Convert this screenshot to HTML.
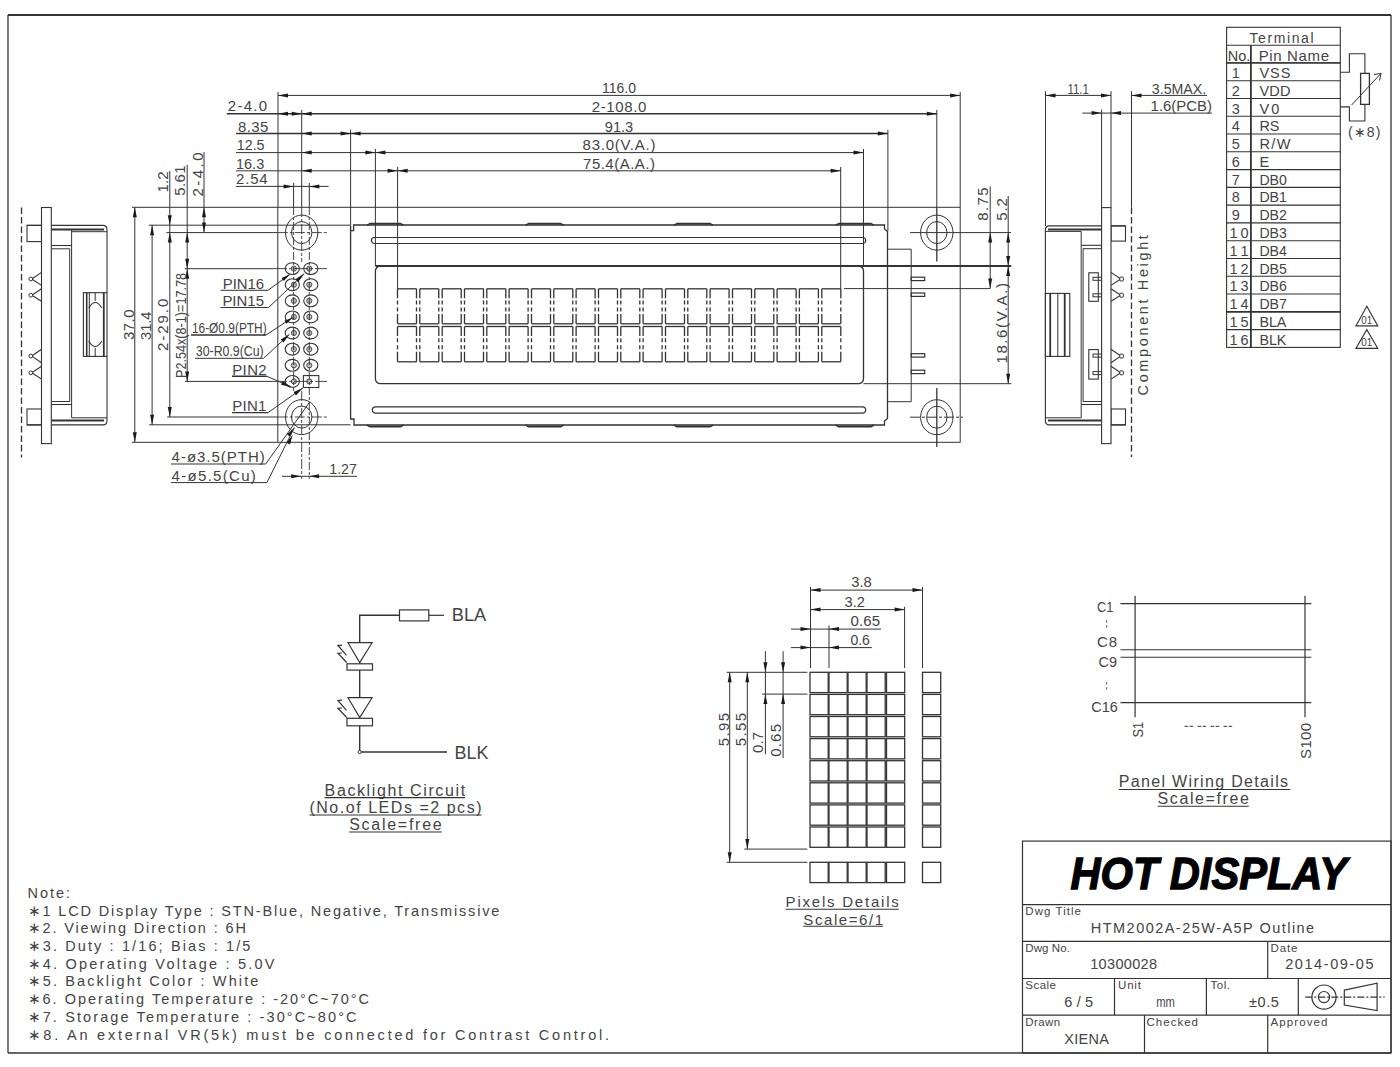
<!DOCTYPE html>
<html><head><meta charset="utf-8"><title>HTM2002A-25W-A5P Outline</title>
<style>
html,body{margin:0;padding:0;background:#fff;width:1400px;height:1067px;overflow:hidden}
svg{display:block}
text{font-family:"Liberation Sans", sans-serif}
</style></head><body>
<svg width="1400" height="1067" viewBox="0 0 1400 1067">
<rect x="0" y="0" width="1400" height="1067" fill="#fff"/>
<g stroke="#333" stroke-width="1" fill="none" stroke-linecap="butt">
<line x1="8" y1="15" x2="1391" y2="15" stroke-width="2.2"/>
<line x1="8" y1="15" x2="8" y2="1053" stroke-width="1.3"/>
<line x1="1391" y1="15" x2="1391" y2="1053" stroke-width="1.3"/>
<line x1="8" y1="1053" x2="1391" y2="1053" stroke-width="1.3"/>
<rect x="277.8" y="207.3" width="682.4" height="235" fill="none"/>
<ellipse cx="301.7" cy="232.6" rx="16.2" ry="17.5" fill="none"/>
<ellipse cx="301.7" cy="232.6" rx="10.2" ry="11" fill="none"/>
<ellipse cx="301.7" cy="417.1" rx="16.2" ry="17.5" fill="none"/>
<ellipse cx="301.7" cy="417.1" rx="10.2" ry="11" fill="none"/>
<ellipse cx="936.8" cy="232.6" rx="16.2" ry="17.5" fill="none"/>
<ellipse cx="936.8" cy="232.6" rx="10.2" ry="11" fill="none"/>
<ellipse cx="936.8" cy="417.2" rx="16.2" ry="17.5" fill="none"/>
<ellipse cx="936.8" cy="417.2" rx="10.2" ry="11" fill="none"/>
<polyline points="350.6,230.7 353.6,230.7 353.6,225 884.5,225 884.5,229 887.5,231.5 887.5,418.5 884.5,421 884.5,425 354,425 354,419 350.6,419 350.6,225.4" fill="none" stroke-width="1.3"/>
<path d="M367,225.4 L370,223.6 L400.5,223.6 L403.5,225.4" fill="none" stroke-width="1.6"/>
<path d="M367,425 L370,426.6 L400.5,426.6 L403.5,425" fill="none" stroke-width="1.6"/>
<path d="M525.6,225.4 L528.6,223.6 L560.7,223.6 L563.7,225.4" fill="none" stroke-width="1.6"/>
<path d="M525.6,425 L528.6,426.6 L560.7,426.6 L563.7,425" fill="none" stroke-width="1.6"/>
<path d="M674,225.4 L677,223.6 L710,223.6 L713,225.4" fill="none" stroke-width="1.6"/>
<path d="M674,425 L677,426.6 L710,426.6 L713,425" fill="none" stroke-width="1.6"/>
<path d="M835.7,225.4 L838.7,223.6 L871,223.6 L874,225.4" fill="none" stroke-width="1.6"/>
<path d="M835.7,425 L838.7,426.6 L871,426.6 L874,425" fill="none" stroke-width="1.6"/>
<path d="M374.5,237.5 L862.7,237.5 A3,3 0 0 1 862.7,243.5 L374.5,243.5 A3,3 0 0 1 374.5,237.5 Z" fill="none" stroke-width="1.2"/>
<path d="M375.5,406.8 L862.5,406.8 A3.2,3.2 0 0 1 862.5,413.2 L375.5,413.2 A3.2,3.2 0 0 1 375.5,406.8 Z" fill="none" stroke-width="1.2"/>
<rect x="375.4" y="266" width="488.1" height="117.7" fill="none" stroke-width="1.3" rx="5"/>
<line x1="375.4" y1="266" x2="863.5" y2="266" stroke-width="2"/>
<polyline points="887.5,249.2 911.2,249.2 911.2,401.7 887.5,401.7" fill="none"/>
<rect x="911.2" y="277.2" width="13.5" height="3.4" fill="none" stroke-width="1.2"/>
<rect x="911.2" y="293" width="13.5" height="3.4" fill="none" stroke-width="1.2"/>
<rect x="911.2" y="353.7" width="13.5" height="3.4" fill="none" stroke-width="1.2"/>
<rect x="911.2" y="370.2" width="13.5" height="3.4" fill="none" stroke-width="1.2"/>
<line x1="397.5" y1="288.8" x2="416.5" y2="288.8" stroke-width="1.3"/>
<line x1="397.5" y1="323.8" x2="416.5" y2="323.8" stroke-width="1.3"/>
<line x1="397.5" y1="288.8" x2="397.5" y2="323.8" stroke-width="1.3" stroke-dasharray="9.5 2.2 4 3 4 2.5 12"/>
<line x1="416.5" y1="288.8" x2="416.5" y2="323.8" stroke-width="1.3" stroke-dasharray="9.5 2.2 4 3 4 2.5 12"/>
<line x1="397.5" y1="326.5" x2="416.5" y2="326.5" stroke-width="1.3"/>
<line x1="397.5" y1="361.8" x2="416.5" y2="361.8" stroke-width="1.3"/>
<line x1="397.5" y1="326.5" x2="397.5" y2="361.8" stroke-width="1.3" stroke-dasharray="9.5 2.2 4 3 4 2.5 12"/>
<line x1="416.5" y1="326.5" x2="416.5" y2="361.8" stroke-width="1.3" stroke-dasharray="9.5 2.2 4 3 4 2.5 12"/>
<line x1="419.8" y1="288.8" x2="438.8" y2="288.8" stroke-width="1.3"/>
<line x1="419.8" y1="323.8" x2="438.8" y2="323.8" stroke-width="1.3"/>
<line x1="419.8" y1="288.8" x2="419.8" y2="323.8" stroke-width="1.3" stroke-dasharray="9.5 2.2 4 3 4 2.5 12"/>
<line x1="438.8" y1="288.8" x2="438.8" y2="323.8" stroke-width="1.3" stroke-dasharray="9.5 2.2 4 3 4 2.5 12"/>
<line x1="419.8" y1="326.5" x2="438.8" y2="326.5" stroke-width="1.3"/>
<line x1="419.8" y1="361.8" x2="438.8" y2="361.8" stroke-width="1.3"/>
<line x1="419.8" y1="326.5" x2="419.8" y2="361.8" stroke-width="1.3" stroke-dasharray="9.5 2.2 4 3 4 2.5 12"/>
<line x1="438.8" y1="326.5" x2="438.8" y2="361.8" stroke-width="1.3" stroke-dasharray="9.5 2.2 4 3 4 2.5 12"/>
<line x1="442.2" y1="288.8" x2="461.2" y2="288.8" stroke-width="1.3"/>
<line x1="442.2" y1="323.8" x2="461.2" y2="323.8" stroke-width="1.3"/>
<line x1="442.2" y1="288.8" x2="442.2" y2="323.8" stroke-width="1.3" stroke-dasharray="9.5 2.2 4 3 4 2.5 12"/>
<line x1="461.2" y1="288.8" x2="461.2" y2="323.8" stroke-width="1.3" stroke-dasharray="9.5 2.2 4 3 4 2.5 12"/>
<line x1="442.2" y1="326.5" x2="461.2" y2="326.5" stroke-width="1.3"/>
<line x1="442.2" y1="361.8" x2="461.2" y2="361.8" stroke-width="1.3"/>
<line x1="442.2" y1="326.5" x2="442.2" y2="361.8" stroke-width="1.3" stroke-dasharray="9.5 2.2 4 3 4 2.5 12"/>
<line x1="461.2" y1="326.5" x2="461.2" y2="361.8" stroke-width="1.3" stroke-dasharray="9.5 2.2 4 3 4 2.5 12"/>
<line x1="464.5" y1="288.8" x2="483.5" y2="288.8" stroke-width="1.3"/>
<line x1="464.5" y1="323.8" x2="483.5" y2="323.8" stroke-width="1.3"/>
<line x1="464.5" y1="288.8" x2="464.5" y2="323.8" stroke-width="1.3" stroke-dasharray="9.5 2.2 4 3 4 2.5 12"/>
<line x1="483.5" y1="288.8" x2="483.5" y2="323.8" stroke-width="1.3" stroke-dasharray="9.5 2.2 4 3 4 2.5 12"/>
<line x1="464.5" y1="326.5" x2="483.5" y2="326.5" stroke-width="1.3"/>
<line x1="464.5" y1="361.8" x2="483.5" y2="361.8" stroke-width="1.3"/>
<line x1="464.5" y1="326.5" x2="464.5" y2="361.8" stroke-width="1.3" stroke-dasharray="9.5 2.2 4 3 4 2.5 12"/>
<line x1="483.5" y1="326.5" x2="483.5" y2="361.8" stroke-width="1.3" stroke-dasharray="9.5 2.2 4 3 4 2.5 12"/>
<line x1="486.8" y1="288.8" x2="505.8" y2="288.8" stroke-width="1.3"/>
<line x1="486.8" y1="323.8" x2="505.8" y2="323.8" stroke-width="1.3"/>
<line x1="486.8" y1="288.8" x2="486.8" y2="323.8" stroke-width="1.3" stroke-dasharray="9.5 2.2 4 3 4 2.5 12"/>
<line x1="505.8" y1="288.8" x2="505.8" y2="323.8" stroke-width="1.3" stroke-dasharray="9.5 2.2 4 3 4 2.5 12"/>
<line x1="486.8" y1="326.5" x2="505.8" y2="326.5" stroke-width="1.3"/>
<line x1="486.8" y1="361.8" x2="505.8" y2="361.8" stroke-width="1.3"/>
<line x1="486.8" y1="326.5" x2="486.8" y2="361.8" stroke-width="1.3" stroke-dasharray="9.5 2.2 4 3 4 2.5 12"/>
<line x1="505.8" y1="326.5" x2="505.8" y2="361.8" stroke-width="1.3" stroke-dasharray="9.5 2.2 4 3 4 2.5 12"/>
<line x1="509.1" y1="288.8" x2="528.1" y2="288.8" stroke-width="1.3"/>
<line x1="509.1" y1="323.8" x2="528.1" y2="323.8" stroke-width="1.3"/>
<line x1="509.1" y1="288.8" x2="509.1" y2="323.8" stroke-width="1.3" stroke-dasharray="9.5 2.2 4 3 4 2.5 12"/>
<line x1="528.1" y1="288.8" x2="528.1" y2="323.8" stroke-width="1.3" stroke-dasharray="9.5 2.2 4 3 4 2.5 12"/>
<line x1="509.1" y1="326.5" x2="528.1" y2="326.5" stroke-width="1.3"/>
<line x1="509.1" y1="361.8" x2="528.1" y2="361.8" stroke-width="1.3"/>
<line x1="509.1" y1="326.5" x2="509.1" y2="361.8" stroke-width="1.3" stroke-dasharray="9.5 2.2 4 3 4 2.5 12"/>
<line x1="528.1" y1="326.5" x2="528.1" y2="361.8" stroke-width="1.3" stroke-dasharray="9.5 2.2 4 3 4 2.5 12"/>
<line x1="531.5" y1="288.8" x2="550.5" y2="288.8" stroke-width="1.3"/>
<line x1="531.5" y1="323.8" x2="550.5" y2="323.8" stroke-width="1.3"/>
<line x1="531.5" y1="288.8" x2="531.5" y2="323.8" stroke-width="1.3" stroke-dasharray="9.5 2.2 4 3 4 2.5 12"/>
<line x1="550.5" y1="288.8" x2="550.5" y2="323.8" stroke-width="1.3" stroke-dasharray="9.5 2.2 4 3 4 2.5 12"/>
<line x1="531.5" y1="326.5" x2="550.5" y2="326.5" stroke-width="1.3"/>
<line x1="531.5" y1="361.8" x2="550.5" y2="361.8" stroke-width="1.3"/>
<line x1="531.5" y1="326.5" x2="531.5" y2="361.8" stroke-width="1.3" stroke-dasharray="9.5 2.2 4 3 4 2.5 12"/>
<line x1="550.5" y1="326.5" x2="550.5" y2="361.8" stroke-width="1.3" stroke-dasharray="9.5 2.2 4 3 4 2.5 12"/>
<line x1="553.8" y1="288.8" x2="572.8" y2="288.8" stroke-width="1.3"/>
<line x1="553.8" y1="323.8" x2="572.8" y2="323.8" stroke-width="1.3"/>
<line x1="553.8" y1="288.8" x2="553.8" y2="323.8" stroke-width="1.3" stroke-dasharray="9.5 2.2 4 3 4 2.5 12"/>
<line x1="572.8" y1="288.8" x2="572.8" y2="323.8" stroke-width="1.3" stroke-dasharray="9.5 2.2 4 3 4 2.5 12"/>
<line x1="553.8" y1="326.5" x2="572.8" y2="326.5" stroke-width="1.3"/>
<line x1="553.8" y1="361.8" x2="572.8" y2="361.8" stroke-width="1.3"/>
<line x1="553.8" y1="326.5" x2="553.8" y2="361.8" stroke-width="1.3" stroke-dasharray="9.5 2.2 4 3 4 2.5 12"/>
<line x1="572.8" y1="326.5" x2="572.8" y2="361.8" stroke-width="1.3" stroke-dasharray="9.5 2.2 4 3 4 2.5 12"/>
<line x1="576.1" y1="288.8" x2="595.1" y2="288.8" stroke-width="1.3"/>
<line x1="576.1" y1="323.8" x2="595.1" y2="323.8" stroke-width="1.3"/>
<line x1="576.1" y1="288.8" x2="576.1" y2="323.8" stroke-width="1.3" stroke-dasharray="9.5 2.2 4 3 4 2.5 12"/>
<line x1="595.1" y1="288.8" x2="595.1" y2="323.8" stroke-width="1.3" stroke-dasharray="9.5 2.2 4 3 4 2.5 12"/>
<line x1="576.1" y1="326.5" x2="595.1" y2="326.5" stroke-width="1.3"/>
<line x1="576.1" y1="361.8" x2="595.1" y2="361.8" stroke-width="1.3"/>
<line x1="576.1" y1="326.5" x2="576.1" y2="361.8" stroke-width="1.3" stroke-dasharray="9.5 2.2 4 3 4 2.5 12"/>
<line x1="595.1" y1="326.5" x2="595.1" y2="361.8" stroke-width="1.3" stroke-dasharray="9.5 2.2 4 3 4 2.5 12"/>
<line x1="598.5" y1="288.8" x2="617.5" y2="288.8" stroke-width="1.3"/>
<line x1="598.5" y1="323.8" x2="617.5" y2="323.8" stroke-width="1.3"/>
<line x1="598.5" y1="288.8" x2="598.5" y2="323.8" stroke-width="1.3" stroke-dasharray="9.5 2.2 4 3 4 2.5 12"/>
<line x1="617.5" y1="288.8" x2="617.5" y2="323.8" stroke-width="1.3" stroke-dasharray="9.5 2.2 4 3 4 2.5 12"/>
<line x1="598.5" y1="326.5" x2="617.5" y2="326.5" stroke-width="1.3"/>
<line x1="598.5" y1="361.8" x2="617.5" y2="361.8" stroke-width="1.3"/>
<line x1="598.5" y1="326.5" x2="598.5" y2="361.8" stroke-width="1.3" stroke-dasharray="9.5 2.2 4 3 4 2.5 12"/>
<line x1="617.5" y1="326.5" x2="617.5" y2="361.8" stroke-width="1.3" stroke-dasharray="9.5 2.2 4 3 4 2.5 12"/>
<line x1="620.8" y1="288.8" x2="639.8" y2="288.8" stroke-width="1.3"/>
<line x1="620.8" y1="323.8" x2="639.8" y2="323.8" stroke-width="1.3"/>
<line x1="620.8" y1="288.8" x2="620.8" y2="323.8" stroke-width="1.3" stroke-dasharray="9.5 2.2 4 3 4 2.5 12"/>
<line x1="639.8" y1="288.8" x2="639.8" y2="323.8" stroke-width="1.3" stroke-dasharray="9.5 2.2 4 3 4 2.5 12"/>
<line x1="620.8" y1="326.5" x2="639.8" y2="326.5" stroke-width="1.3"/>
<line x1="620.8" y1="361.8" x2="639.8" y2="361.8" stroke-width="1.3"/>
<line x1="620.8" y1="326.5" x2="620.8" y2="361.8" stroke-width="1.3" stroke-dasharray="9.5 2.2 4 3 4 2.5 12"/>
<line x1="639.8" y1="326.5" x2="639.8" y2="361.8" stroke-width="1.3" stroke-dasharray="9.5 2.2 4 3 4 2.5 12"/>
<line x1="643.1" y1="288.8" x2="662.1" y2="288.8" stroke-width="1.3"/>
<line x1="643.1" y1="323.8" x2="662.1" y2="323.8" stroke-width="1.3"/>
<line x1="643.1" y1="288.8" x2="643.1" y2="323.8" stroke-width="1.3" stroke-dasharray="9.5 2.2 4 3 4 2.5 12"/>
<line x1="662.1" y1="288.8" x2="662.1" y2="323.8" stroke-width="1.3" stroke-dasharray="9.5 2.2 4 3 4 2.5 12"/>
<line x1="643.1" y1="326.5" x2="662.1" y2="326.5" stroke-width="1.3"/>
<line x1="643.1" y1="361.8" x2="662.1" y2="361.8" stroke-width="1.3"/>
<line x1="643.1" y1="326.5" x2="643.1" y2="361.8" stroke-width="1.3" stroke-dasharray="9.5 2.2 4 3 4 2.5 12"/>
<line x1="662.1" y1="326.5" x2="662.1" y2="361.8" stroke-width="1.3" stroke-dasharray="9.5 2.2 4 3 4 2.5 12"/>
<line x1="665.5" y1="288.8" x2="684.5" y2="288.8" stroke-width="1.3"/>
<line x1="665.5" y1="323.8" x2="684.5" y2="323.8" stroke-width="1.3"/>
<line x1="665.5" y1="288.8" x2="665.5" y2="323.8" stroke-width="1.3" stroke-dasharray="9.5 2.2 4 3 4 2.5 12"/>
<line x1="684.5" y1="288.8" x2="684.5" y2="323.8" stroke-width="1.3" stroke-dasharray="9.5 2.2 4 3 4 2.5 12"/>
<line x1="665.5" y1="326.5" x2="684.5" y2="326.5" stroke-width="1.3"/>
<line x1="665.5" y1="361.8" x2="684.5" y2="361.8" stroke-width="1.3"/>
<line x1="665.5" y1="326.5" x2="665.5" y2="361.8" stroke-width="1.3" stroke-dasharray="9.5 2.2 4 3 4 2.5 12"/>
<line x1="684.5" y1="326.5" x2="684.5" y2="361.8" stroke-width="1.3" stroke-dasharray="9.5 2.2 4 3 4 2.5 12"/>
<line x1="687.8" y1="288.8" x2="706.8" y2="288.8" stroke-width="1.3"/>
<line x1="687.8" y1="323.8" x2="706.8" y2="323.8" stroke-width="1.3"/>
<line x1="687.8" y1="288.8" x2="687.8" y2="323.8" stroke-width="1.3" stroke-dasharray="9.5 2.2 4 3 4 2.5 12"/>
<line x1="706.8" y1="288.8" x2="706.8" y2="323.8" stroke-width="1.3" stroke-dasharray="9.5 2.2 4 3 4 2.5 12"/>
<line x1="687.8" y1="326.5" x2="706.8" y2="326.5" stroke-width="1.3"/>
<line x1="687.8" y1="361.8" x2="706.8" y2="361.8" stroke-width="1.3"/>
<line x1="687.8" y1="326.5" x2="687.8" y2="361.8" stroke-width="1.3" stroke-dasharray="9.5 2.2 4 3 4 2.5 12"/>
<line x1="706.8" y1="326.5" x2="706.8" y2="361.8" stroke-width="1.3" stroke-dasharray="9.5 2.2 4 3 4 2.5 12"/>
<line x1="710.1" y1="288.8" x2="729.1" y2="288.8" stroke-width="1.3"/>
<line x1="710.1" y1="323.8" x2="729.1" y2="323.8" stroke-width="1.3"/>
<line x1="710.1" y1="288.8" x2="710.1" y2="323.8" stroke-width="1.3" stroke-dasharray="9.5 2.2 4 3 4 2.5 12"/>
<line x1="729.1" y1="288.8" x2="729.1" y2="323.8" stroke-width="1.3" stroke-dasharray="9.5 2.2 4 3 4 2.5 12"/>
<line x1="710.1" y1="326.5" x2="729.1" y2="326.5" stroke-width="1.3"/>
<line x1="710.1" y1="361.8" x2="729.1" y2="361.8" stroke-width="1.3"/>
<line x1="710.1" y1="326.5" x2="710.1" y2="361.8" stroke-width="1.3" stroke-dasharray="9.5 2.2 4 3 4 2.5 12"/>
<line x1="729.1" y1="326.5" x2="729.1" y2="361.8" stroke-width="1.3" stroke-dasharray="9.5 2.2 4 3 4 2.5 12"/>
<line x1="732.5" y1="288.8" x2="751.5" y2="288.8" stroke-width="1.3"/>
<line x1="732.5" y1="323.8" x2="751.5" y2="323.8" stroke-width="1.3"/>
<line x1="732.5" y1="288.8" x2="732.5" y2="323.8" stroke-width="1.3" stroke-dasharray="9.5 2.2 4 3 4 2.5 12"/>
<line x1="751.5" y1="288.8" x2="751.5" y2="323.8" stroke-width="1.3" stroke-dasharray="9.5 2.2 4 3 4 2.5 12"/>
<line x1="732.5" y1="326.5" x2="751.5" y2="326.5" stroke-width="1.3"/>
<line x1="732.5" y1="361.8" x2="751.5" y2="361.8" stroke-width="1.3"/>
<line x1="732.5" y1="326.5" x2="732.5" y2="361.8" stroke-width="1.3" stroke-dasharray="9.5 2.2 4 3 4 2.5 12"/>
<line x1="751.5" y1="326.5" x2="751.5" y2="361.8" stroke-width="1.3" stroke-dasharray="9.5 2.2 4 3 4 2.5 12"/>
<line x1="754.8" y1="288.8" x2="773.8" y2="288.8" stroke-width="1.3"/>
<line x1="754.8" y1="323.8" x2="773.8" y2="323.8" stroke-width="1.3"/>
<line x1="754.8" y1="288.8" x2="754.8" y2="323.8" stroke-width="1.3" stroke-dasharray="9.5 2.2 4 3 4 2.5 12"/>
<line x1="773.8" y1="288.8" x2="773.8" y2="323.8" stroke-width="1.3" stroke-dasharray="9.5 2.2 4 3 4 2.5 12"/>
<line x1="754.8" y1="326.5" x2="773.8" y2="326.5" stroke-width="1.3"/>
<line x1="754.8" y1="361.8" x2="773.8" y2="361.8" stroke-width="1.3"/>
<line x1="754.8" y1="326.5" x2="754.8" y2="361.8" stroke-width="1.3" stroke-dasharray="9.5 2.2 4 3 4 2.5 12"/>
<line x1="773.8" y1="326.5" x2="773.8" y2="361.8" stroke-width="1.3" stroke-dasharray="9.5 2.2 4 3 4 2.5 12"/>
<line x1="777.1" y1="288.8" x2="796.1" y2="288.8" stroke-width="1.3"/>
<line x1="777.1" y1="323.8" x2="796.1" y2="323.8" stroke-width="1.3"/>
<line x1="777.1" y1="288.8" x2="777.1" y2="323.8" stroke-width="1.3" stroke-dasharray="9.5 2.2 4 3 4 2.5 12"/>
<line x1="796.1" y1="288.8" x2="796.1" y2="323.8" stroke-width="1.3" stroke-dasharray="9.5 2.2 4 3 4 2.5 12"/>
<line x1="777.1" y1="326.5" x2="796.1" y2="326.5" stroke-width="1.3"/>
<line x1="777.1" y1="361.8" x2="796.1" y2="361.8" stroke-width="1.3"/>
<line x1="777.1" y1="326.5" x2="777.1" y2="361.8" stroke-width="1.3" stroke-dasharray="9.5 2.2 4 3 4 2.5 12"/>
<line x1="796.1" y1="326.5" x2="796.1" y2="361.8" stroke-width="1.3" stroke-dasharray="9.5 2.2 4 3 4 2.5 12"/>
<line x1="799.4" y1="288.8" x2="818.4" y2="288.8" stroke-width="1.3"/>
<line x1="799.4" y1="323.8" x2="818.4" y2="323.8" stroke-width="1.3"/>
<line x1="799.4" y1="288.8" x2="799.4" y2="323.8" stroke-width="1.3" stroke-dasharray="9.5 2.2 4 3 4 2.5 12"/>
<line x1="818.4" y1="288.8" x2="818.4" y2="323.8" stroke-width="1.3" stroke-dasharray="9.5 2.2 4 3 4 2.5 12"/>
<line x1="799.4" y1="326.5" x2="818.4" y2="326.5" stroke-width="1.3"/>
<line x1="799.4" y1="361.8" x2="818.4" y2="361.8" stroke-width="1.3"/>
<line x1="799.4" y1="326.5" x2="799.4" y2="361.8" stroke-width="1.3" stroke-dasharray="9.5 2.2 4 3 4 2.5 12"/>
<line x1="818.4" y1="326.5" x2="818.4" y2="361.8" stroke-width="1.3" stroke-dasharray="9.5 2.2 4 3 4 2.5 12"/>
<line x1="821.8" y1="288.8" x2="840.8" y2="288.8" stroke-width="1.3"/>
<line x1="821.8" y1="323.8" x2="840.8" y2="323.8" stroke-width="1.3"/>
<line x1="821.8" y1="288.8" x2="821.8" y2="323.8" stroke-width="1.3" stroke-dasharray="9.5 2.2 4 3 4 2.5 12"/>
<line x1="840.8" y1="288.8" x2="840.8" y2="323.8" stroke-width="1.3" stroke-dasharray="9.5 2.2 4 3 4 2.5 12"/>
<line x1="821.8" y1="326.5" x2="840.8" y2="326.5" stroke-width="1.3"/>
<line x1="821.8" y1="361.8" x2="840.8" y2="361.8" stroke-width="1.3"/>
<line x1="821.8" y1="326.5" x2="821.8" y2="361.8" stroke-width="1.3" stroke-dasharray="9.5 2.2 4 3 4 2.5 12"/>
<line x1="840.8" y1="326.5" x2="840.8" y2="361.8" stroke-width="1.3" stroke-dasharray="9.5 2.2 4 3 4 2.5 12"/>
<ellipse cx="292.3" cy="268.6" rx="7.1" ry="5.9" fill="none" stroke-width="1.1"/>
<circle cx="293.9" cy="268.6" r="2.6" fill="#bbb" stroke="#444" stroke-width="0.9"/>
<ellipse cx="310.8" cy="268.6" rx="7.1" ry="5.9" fill="none" stroke-width="1.1"/>
<circle cx="309.3" cy="268.6" r="2.6" fill="#bbb" stroke="#444" stroke-width="0.9"/>
<ellipse cx="292.3" cy="284.7" rx="7.1" ry="5.9" fill="none" stroke-width="1.1"/>
<circle cx="293.9" cy="284.7" r="2.6" fill="#bbb" stroke="#444" stroke-width="0.9"/>
<ellipse cx="310.8" cy="284.7" rx="7.1" ry="5.9" fill="none" stroke-width="1.1"/>
<circle cx="309.3" cy="284.7" r="2.6" fill="#bbb" stroke="#444" stroke-width="0.9"/>
<ellipse cx="292.3" cy="300.8" rx="7.1" ry="5.9" fill="none" stroke-width="1.1"/>
<circle cx="293.9" cy="300.8" r="2.6" fill="#bbb" stroke="#444" stroke-width="0.9"/>
<ellipse cx="310.8" cy="300.8" rx="7.1" ry="5.9" fill="none" stroke-width="1.1"/>
<circle cx="309.3" cy="300.8" r="2.6" fill="#bbb" stroke="#444" stroke-width="0.9"/>
<ellipse cx="292.3" cy="316.9" rx="7.1" ry="5.9" fill="none" stroke-width="1.1"/>
<circle cx="293.9" cy="316.9" r="2.6" fill="#bbb" stroke="#444" stroke-width="0.9"/>
<ellipse cx="310.8" cy="316.9" rx="7.1" ry="5.9" fill="none" stroke-width="1.1"/>
<circle cx="309.3" cy="316.9" r="2.6" fill="#bbb" stroke="#444" stroke-width="0.9"/>
<ellipse cx="292.3" cy="333" rx="7.1" ry="5.9" fill="none" stroke-width="1.1"/>
<circle cx="293.9" cy="333" r="2.6" fill="#bbb" stroke="#444" stroke-width="0.9"/>
<ellipse cx="310.8" cy="333" rx="7.1" ry="5.9" fill="none" stroke-width="1.1"/>
<circle cx="309.3" cy="333" r="2.6" fill="#bbb" stroke="#444" stroke-width="0.9"/>
<ellipse cx="292.3" cy="349.2" rx="7.1" ry="5.9" fill="none" stroke-width="1.1"/>
<circle cx="293.9" cy="349.2" r="2.6" fill="#bbb" stroke="#444" stroke-width="0.9"/>
<ellipse cx="310.8" cy="349.2" rx="7.1" ry="5.9" fill="none" stroke-width="1.1"/>
<circle cx="309.3" cy="349.2" r="2.6" fill="#bbb" stroke="#444" stroke-width="0.9"/>
<ellipse cx="292.3" cy="365.3" rx="7.1" ry="5.9" fill="none" stroke-width="1.1"/>
<circle cx="293.9" cy="365.3" r="2.6" fill="#bbb" stroke="#444" stroke-width="0.9"/>
<ellipse cx="310.8" cy="365.3" rx="7.1" ry="5.9" fill="none" stroke-width="1.1"/>
<circle cx="309.3" cy="365.3" r="2.6" fill="#bbb" stroke="#444" stroke-width="0.9"/>
<ellipse cx="292.3" cy="381.4" rx="7.1" ry="5.9" fill="none" stroke-width="1.1"/>
<circle cx="293.9" cy="381.4" r="2.6" fill="#bbb" stroke="#444" stroke-width="0.9"/>
<rect x="303.4" y="375.6" width="15.4" height="11.9" fill="none" stroke-width="1.1"/>
<circle cx="309.3" cy="381.4" r="2.6" fill="#bbb" stroke="#444" stroke-width="0.9"/>
<line x1="273" y1="268.6" x2="327" y2="268.6" stroke-width="0.9" stroke-dasharray="14 2 3 2"/>
<line x1="273" y1="381.4" x2="327" y2="381.4" stroke-width="0.9" stroke-dasharray="14 2 3 2"/>
<line x1="293.6" y1="183" x2="293.6" y2="207"/>
<line x1="309.3" y1="183" x2="309.3" y2="207"/>
<line x1="293.6" y1="207" x2="293.6" y2="391" stroke-width="0.9" stroke-dasharray="8 2 3 2"/>
<line x1="309.3" y1="207" x2="309.3" y2="479" stroke-width="0.9" stroke-dasharray="8 2 3 2"/>
<line x1="301.7" y1="110" x2="301.7" y2="207"/>
<line x1="301.7" y1="207" x2="301.7" y2="262" stroke-width="0.9" stroke-dasharray="10 2 3 2"/>
<line x1="301.7" y1="391" x2="301.7" y2="479" stroke-width="0.9" stroke-dasharray="10 2 3 2"/>
<line x1="166.4" y1="232.6" x2="277.8" y2="232.6"/>
<line x1="277.8" y1="232.6" x2="328.6" y2="232.6" stroke-width="0.9" stroke-dasharray="10 2 3 2"/>
<line x1="167.2" y1="417" x2="277.8" y2="417"/>
<line x1="277.8" y1="417" x2="328.6" y2="417" stroke-width="0.9" stroke-dasharray="10 2 3 2"/>
<line x1="936.8" y1="110" x2="936.8" y2="207.3"/>
<line x1="936.8" y1="207.3" x2="936.8" y2="261.5" stroke-width="1.3"/>
<line x1="910" y1="232.6" x2="1011" y2="232.6"/>
<line x1="936.8" y1="388" x2="936.8" y2="447" stroke-width="1.3"/>
<line x1="910" y1="417.2" x2="963" y2="417.2" stroke-dasharray="10 2 3 2"/>
<line x1="278" y1="92" x2="278" y2="207.3"/>
<line x1="960.2" y1="92" x2="960.2" y2="207.3"/>
<line x1="350.6" y1="129.6" x2="350.6" y2="225"/>
<line x1="887.9" y1="130" x2="887.9" y2="231"/>
<line x1="375.4" y1="149" x2="375.4" y2="266"/>
<line x1="863.5" y1="149" x2="863.5" y2="266"/>
<line x1="397.6" y1="167" x2="397.6" y2="288.8"/>
<line x1="840.7" y1="167" x2="840.7" y2="288.8"/>
<line x1="278" y1="95.4" x2="960.2" y2="95.4"/>
<polygon points="278,95.4 288,93.4 288,97.4" fill="#1a1a1a" stroke="none"/>
<polygon points="960.2,95.4 950.2,97.4 950.2,93.4" fill="#1a1a1a" stroke="none"/>
<text x="619" y="93" font-size="15" text-anchor="middle" textLength="34" lengthAdjust="spacingAndGlyphs" fill="#444" stroke="none">116.0</text>
<line x1="226.8" y1="113.8" x2="936.8" y2="113.8" stroke-width="1.6"/>
<polygon points="278,113.8 288,111.8 288,115.8" fill="#1a1a1a" stroke="none"/>
<polygon points="301.7,113.8 291.7,115.8 291.7,111.8" fill="#1a1a1a" stroke="none"/>
<polygon points="301.7,113.8 311.7,111.8 311.7,115.8" fill="#1a1a1a" stroke="none"/>
<polygon points="936.8,113.8 926.8,115.8 926.8,111.8" fill="#1a1a1a" stroke="none"/>
<text x="227.8" y="111.4" font-size="15" textLength="39.2" lengthAdjust="spacing" fill="#444" stroke="none">2-4.0</text>
<text x="619" y="111.6" font-size="15" text-anchor="middle" textLength="54.7" lengthAdjust="spacing" fill="#444" stroke="none">2-108.0</text>
<line x1="236" y1="133.5" x2="887.9" y2="133.5" stroke-width="1.5"/>
<polygon points="301.7,133.5 311.7,131.5 311.7,135.5" fill="#1a1a1a" stroke="none"/>
<polygon points="350.6,133.5 340.6,135.5 340.6,131.5" fill="#1a1a1a" stroke="none"/>
<polygon points="350.6,133.5 360.6,131.5 360.6,135.5" fill="#1a1a1a" stroke="none"/>
<polygon points="887.9,133.5 877.9,135.5 877.9,131.5" fill="#1a1a1a" stroke="none"/>
<text x="238" y="131.6" font-size="15" textLength="30.4" lengthAdjust="spacing" fill="#444" stroke="none">8.35</text>
<text x="619" y="131.6" font-size="15" text-anchor="middle" textLength="28.5" lengthAdjust="spacingAndGlyphs" fill="#444" stroke="none">91.3</text>
<line x1="236" y1="152.6" x2="863.5" y2="152.6"/>
<polygon points="301.7,152.6 311.7,150.6 311.7,154.6" fill="#1a1a1a" stroke="none"/>
<polygon points="375.4,152.6 365.4,154.6 365.4,150.6" fill="#1a1a1a" stroke="none"/>
<polygon points="375.4,152.6 385.4,150.6 385.4,154.6" fill="#1a1a1a" stroke="none"/>
<polygon points="863.5,152.6 853.5,154.6 853.5,150.6" fill="#1a1a1a" stroke="none"/>
<text x="236.7" y="150.4" font-size="15" textLength="27.9" lengthAdjust="spacingAndGlyphs" fill="#444" stroke="none">12.5</text>
<text x="619" y="150.2" font-size="15" text-anchor="middle" textLength="72.8" lengthAdjust="spacing" fill="#444" stroke="none">83.0(V.A.)</text>
<line x1="236" y1="170.8" x2="840.7" y2="170.8"/>
<polygon points="301.7,170.8 311.7,168.8 311.7,172.8" fill="#1a1a1a" stroke="none"/>
<polygon points="397.6,170.8 387.6,172.8 387.6,168.8" fill="#1a1a1a" stroke="none"/>
<polygon points="397.6,170.8 407.6,168.8 407.6,172.8" fill="#1a1a1a" stroke="none"/>
<polygon points="840.7,170.8 830.7,172.8 830.7,168.8" fill="#1a1a1a" stroke="none"/>
<text x="236" y="169" font-size="15" textLength="28.2" lengthAdjust="spacingAndGlyphs" fill="#444" stroke="none">16.3</text>
<text x="619" y="169.2" font-size="15" text-anchor="middle" textLength="71.8" lengthAdjust="spacing" fill="#444" stroke="none">75.4(A.A.)</text>
<line x1="236" y1="186.4" x2="328.6" y2="186.4"/>
<polygon points="293.6,186.4 283.6,188.4 283.6,184.4" fill="#1a1a1a" stroke="none"/>
<polygon points="309.3,186.4 319.3,184.4 319.3,188.4" fill="#1a1a1a" stroke="none"/>
<text x="236" y="183.8" font-size="15" textLength="31.7" lengthAdjust="spacing" fill="#444" stroke="none">2.54</text>
<line x1="132" y1="207.3" x2="277.8" y2="207.3"/>
<line x1="148.8" y1="225.2" x2="350.6" y2="225.2"/>
<line x1="184.7" y1="268.7" x2="273" y2="268.7"/>
<line x1="185" y1="381.4" x2="273" y2="381.4"/>
<line x1="149.1" y1="424.8" x2="350.6" y2="424.8"/>
<line x1="131.8" y1="442.3" x2="277.8" y2="442.3"/>
<line x1="134.8" y1="207.3" x2="134.8" y2="442.3"/>
<polygon points="134.8,207.3 136.8,217.3 132.8,217.3" fill="#1a1a1a" stroke="none"/>
<polygon points="134.8,442.3 132.8,432.3 136.8,432.3" fill="#1a1a1a" stroke="none"/>
<text x="133.8" y="340" font-size="15" textLength="30.5" lengthAdjust="spacing" transform="rotate(-90 133.8 340)" fill="#444" stroke="none">37.0</text>
<line x1="152.1" y1="225.2" x2="152.1" y2="424.8"/>
<polygon points="152.1,225.2 154.1,235.2 150.1,235.2" fill="#1a1a1a" stroke="none"/>
<polygon points="152.1,424.8 150.1,414.8 154.1,414.8" fill="#1a1a1a" stroke="none"/>
<text x="151.2" y="340" font-size="15" textLength="28.5" lengthAdjust="spacingAndGlyphs" transform="rotate(-90 151.2 340)" fill="#444" stroke="none">31.4</text>
<line x1="169.8" y1="171" x2="169.8" y2="416.9"/>
<polygon points="169.8,225.2 167.8,215.2 171.8,215.2" fill="#1a1a1a" stroke="none"/>
<polygon points="169.8,232.6 171.8,242.6 167.8,242.6" fill="#1a1a1a" stroke="none"/>
<polygon points="169.8,416.9 167.8,406.9 171.8,406.9" fill="#1a1a1a" stroke="none"/>
<text x="168.3" y="350.9" font-size="15" textLength="52.2" lengthAdjust="spacing" transform="rotate(-90 168.3 350.9)" fill="#444" stroke="none">2-29.0</text>
<text x="168.3" y="192.5" font-size="15" textLength="21" lengthAdjust="spacing" transform="rotate(-90 168.3 192.5)" fill="#444" stroke="none">1.2</text>
<line x1="187.2" y1="164.8" x2="187.2" y2="381.4"/>
<polygon points="187.2,232.6 189.2,242.6 185.2,242.6" fill="#1a1a1a" stroke="none"/>
<polygon points="187.2,268.7 185.2,258.7 189.2,258.7" fill="#1a1a1a" stroke="none"/>
<polygon points="187.2,268.7 189.2,278.7 185.2,278.7" fill="#1a1a1a" stroke="none"/>
<polygon points="187.2,381.4 185.2,371.4 189.2,371.4" fill="#1a1a1a" stroke="none"/>
<text x="185.5" y="195.8" font-size="15" textLength="30.3" lengthAdjust="spacing" transform="rotate(-90 185.5 195.8)" fill="#444" stroke="none">5.61</text>
<text x="185.8" y="378" font-size="14" textLength="105" lengthAdjust="spacingAndGlyphs" transform="rotate(-90 185.8 378)" fill="#444" stroke="none">P2.54x(8-1)=17.78</text>
<line x1="204" y1="152" x2="204" y2="232.6"/>
<polygon points="204,207.3 206,217.3 202,217.3" fill="#1a1a1a" stroke="none"/>
<polygon points="204,232.6 202,222.6 206,222.6" fill="#1a1a1a" stroke="none"/>
<text x="202.5" y="196.5" font-size="15" textLength="44" lengthAdjust="spacing" transform="rotate(-90 202.5 196.5)" fill="#444" stroke="none">2-4.0</text>
<text x="222.7" y="288.5" font-size="15" textLength="41.5" lengthAdjust="spacingAndGlyphs" fill="#444" stroke="none">PIN16</text>
<line x1="220.6" y1="290.3" x2="268" y2="290.3"/>
<line x1="268" y1="290.3" x2="290" y2="274.3"/>
<polygon points="290,274.3 283.8,281 281.7,278.1" fill="#1a1a1a" stroke="none"/>
<text x="222.4" y="305.6" font-size="15" textLength="41.6" lengthAdjust="spacingAndGlyphs" fill="#444" stroke="none">PIN15</text>
<line x1="220.4" y1="307.5" x2="268.6" y2="307.5"/>
<line x1="268.6" y1="307.5" x2="304.3" y2="273.6"/>
<polygon points="304.3,273.6 298.4,281.9 295.7,279" fill="#1a1a1a" stroke="none"/>
<text x="191.9" y="333.1" font-size="14" textLength="74.8" lengthAdjust="spacingAndGlyphs" fill="#444" stroke="none">16-Ø0.9(PTH)</text>
<line x1="191" y1="335" x2="266" y2="335" stroke-width="1.6"/>
<line x1="266" y1="335" x2="292.9" y2="317.4"/>
<polygon points="292.9,317.4 286.4,323.8 284.4,320.8" fill="#1a1a1a" stroke="none"/>
<text x="195.8" y="356.4" font-size="14" textLength="67.9" lengthAdjust="spacingAndGlyphs" fill="#444" stroke="none">30-R0.9(Cu)</text>
<line x1="195" y1="358.3" x2="263.5" y2="358.3"/>
<line x1="263.5" y1="358.3" x2="289.5" y2="334.3"/>
<polygon points="289.5,334.3 283.5,342.6 280.8,339.6" fill="#1a1a1a" stroke="none"/>
<text x="232.2" y="374.5" font-size="15" textLength="34.5" lengthAdjust="spacing" fill="#444" stroke="none">PIN2</text>
<line x1="232" y1="376.3" x2="266.9" y2="376.3" stroke-width="1.6"/>
<line x1="266.9" y1="376.3" x2="291.1" y2="386.9"/>
<polygon points="291.1,386.9 281.1,384.7 282.7,381.1" fill="#1a1a1a" stroke="none"/>
<text x="232.2" y="410.9" font-size="15" textLength="34.2" lengthAdjust="spacing" fill="#444" stroke="none">PIN1</text>
<line x1="232" y1="412.6" x2="268" y2="412.6" stroke-width="1.4"/>
<line x1="268" y1="412.6" x2="302.9" y2="388"/>
<polygon points="302.9,388 295.9,395.4 293.6,392.1" fill="#1a1a1a" stroke="none"/>
<text x="171.6" y="462.1" font-size="15" textLength="93.1" lengthAdjust="spacing" fill="#444" stroke="none">4-ø3.5(PTH)</text>
<line x1="171" y1="464" x2="265.7" y2="464"/>
<line x1="265.7" y1="464" x2="309.6" y2="402.1"/>
<polygon points="294.4,427.4 290.2,436.7 287,434.4" fill="#1a1a1a" stroke="none"/>
<text x="171.6" y="480.8" font-size="15" textLength="84.2" lengthAdjust="spacing" fill="#444" stroke="none">4-ø5.5(Cu)</text>
<line x1="171" y1="482.6" x2="266.9" y2="482.6"/>
<line x1="266.9" y1="482.6" x2="294.4" y2="427.4"/>
<polygon points="292.7,434.7 290,444.5 286.5,442.8" fill="#1a1a1a" stroke="none"/>
<line x1="282" y1="476.3" x2="357" y2="476.3"/>
<polygon points="301.2,476.3 291.2,478.3 291.2,474.3" fill="#1a1a1a" stroke="none"/>
<polygon points="309.1,476.3 319.1,474.3 319.1,478.3" fill="#1a1a1a" stroke="none"/>
<text x="329.3" y="474.3" font-size="15" textLength="27.6" lengthAdjust="spacingAndGlyphs" fill="#444" stroke="none">1.27</text>
<line x1="844" y1="288.6" x2="990.2" y2="288.6"/>
<line x1="376" y1="266" x2="1011.2" y2="266" stroke-width="2"/>
<line x1="863.5" y1="383.7" x2="1011.2" y2="383.7"/>
<line x1="990.2" y1="186.4" x2="990.2" y2="288.6"/>
<polygon points="990.2,232.6 992.2,242.6 988.2,242.6" fill="#1a1a1a" stroke="none"/>
<polygon points="990.2,288.6 988.2,278.6 992.2,278.6" fill="#1a1a1a" stroke="none"/>
<text x="988.2" y="220.7" font-size="15" textLength="33.2" lengthAdjust="spacing" transform="rotate(-90 988.2 220.7)" fill="#444" stroke="none">8.75</text>
<line x1="1008.2" y1="196" x2="1008.2" y2="383.7"/>
<polygon points="1008.2,232.6 1010.2,242.6 1006.2,242.6" fill="#1a1a1a" stroke="none"/>
<polygon points="1008.2,266 1006.2,256 1010.2,256" fill="#1a1a1a" stroke="none"/>
<polygon points="1008.2,266 1010.2,276 1006.2,276" fill="#1a1a1a" stroke="none"/>
<polygon points="1008.2,383.7 1006.2,373.7 1010.2,373.7" fill="#1a1a1a" stroke="none"/>
<text x="1006.8" y="220.7" font-size="15" textLength="22.5" lengthAdjust="spacing" transform="rotate(-90 1006.8 220.7)" fill="#444" stroke="none">5.2</text>
<text x="1007.3" y="363.5" font-size="15" textLength="80.5" lengthAdjust="spacing" transform="rotate(-90 1007.3 363.5)" fill="#444" stroke="none">18.6(V.A.)</text>
<line x1="21.5" y1="207.5" x2="21.5" y2="457.5" stroke-width="1.3" stroke-dasharray="6.5 3"/>
<path d="M27,225.4 L103,225.4 Q107,225.4 107,229.5 L107,292.7" fill="none" stroke-width="1.1"/>
<line x1="51.3" y1="229.4" x2="104" y2="229.4" stroke-width="2"/>
<rect x="27" y="225.4" width="14.5" height="16.2" fill="none" stroke-width="1.1"/>
<polyline points="71.6,229.4 71.6,231.7 107,231.7" fill="none"/>
<line x1="51.3" y1="245.5" x2="71.6" y2="245.5" stroke-width="1.1"/>
<polyline points="51.3,248.8 69.7,248.8 69.7,401.5 51.3,401.5" fill="none"/>
<line x1="71.6" y1="231.7" x2="71.6" y2="417.8"/>
<line x1="51.3" y1="404.5" x2="71.6" y2="404.5" stroke-width="1.1"/>
<polyline points="71.6,417.8 107,417.8" fill="none"/>
<path d="M107,356.4 L107,420.5 Q107,424.9 103,424.9 L27,424.9" fill="none" stroke-width="1.1"/>
<line x1="51.3" y1="420.5" x2="104" y2="420.5" stroke-width="2"/>
<rect x="27" y="409" width="14.5" height="15.9" fill="none" stroke-width="1.1"/>
<rect x="83.4" y="292.7" width="23.6" height="63.7" fill="none" stroke-width="1.1"/>
<line x1="86.7" y1="292.7" x2="86.7" y2="356.4" stroke-width="1.6"/>
<line x1="89.3" y1="292.7" x2="89.3" y2="356.4"/>
<line x1="103.8" y1="292.7" x2="103.8" y2="356.4" stroke-width="1.8"/>
<path d="M88.7,308 Q95.2,297 101.8,308" fill="none" stroke-width="1.1"/>
<path d="M88.7,341 Q95.2,352 101.8,341" fill="none" stroke-width="1.1"/>
<line x1="95.2" y1="292.7" x2="95.2" y2="301"/>
<line x1="95.2" y1="348" x2="95.2" y2="356.4"/>
<polyline points="41.5,272.4 31.8,279 41.5,285.4" fill="none" stroke-width="1.1"/>
<circle cx="30.8" cy="279" r="1.9" fill="#fff" stroke-width="1"/>
<polyline points="41.5,288.8 31.8,295.2 41.5,301.2" fill="none" stroke-width="1.1"/>
<circle cx="30.8" cy="295.2" r="1.9" fill="#fff" stroke-width="1"/>
<polyline points="41.5,349.2 31.8,356.1 41.5,362.7" fill="none" stroke-width="1.1"/>
<circle cx="30.8" cy="356.1" r="1.9" fill="#fff" stroke-width="1"/>
<polyline points="41.5,366.2 31.8,372.8 41.5,379.1" fill="none" stroke-width="1.1"/>
<circle cx="30.8" cy="372.8" r="1.9" fill="#fff" stroke-width="1"/>
<rect x="41.5" y="207.5" width="9.8" height="236.1" fill="#fff" stroke-width="1.1"/>
<line x1="1131.5" y1="91.2" x2="1131.5" y2="207.5"/>
<line x1="1131.5" y1="207.5" x2="1131.5" y2="457" stroke-width="1.3" stroke-dasharray="6.5 3"/>
<line x1="1045.5" y1="91.2" x2="1045.5" y2="226"/>
<line x1="1101.6" y1="109.7" x2="1101.6" y2="207.6"/>
<line x1="1111" y1="91.2" x2="1111" y2="207.6"/>
<path d="M1125.5,225.9 L1049.5,225.9 Q1045.4,225.9 1045.4,230 L1045.4,420.5 Q1045.4,424.9 1049.5,424.9 L1125.5,424.9" fill="none" stroke-width="1.1"/>
<line x1="1048" y1="229.4" x2="1101.6" y2="229.4" stroke-width="2"/>
<line x1="1048" y1="420.5" x2="1101.6" y2="420.5" stroke-width="2"/>
<rect x="1111" y="225.9" width="14.5" height="15.2" fill="none" stroke-width="1.1"/>
<rect x="1111" y="409" width="14.5" height="15.9" fill="none" stroke-width="1.1"/>
<polyline points="1045.4,231.4 1081.2,231.4 1081.2,417.8 1045.4,417.8" fill="none"/>
<line x1="1081.2" y1="245.3" x2="1101.6" y2="245.3" stroke-width="1.1"/>
<line x1="1081.2" y1="404.5" x2="1101.6" y2="404.5" stroke-width="1.1"/>
<polyline points="1101.6,248.7 1083.1,248.7 1083.1,401.5 1101.6,401.5" fill="none"/>
<rect x="1088.8" y="272.8" width="9.5" height="28.5" fill="none" stroke-width="1.1"/>
<rect x="1093" y="277.3" width="8.6" height="3" fill="none"/>
<rect x="1093" y="293.8" width="8.6" height="3" fill="none"/>
<rect x="1088.8" y="349.6" width="9.5" height="29.5" fill="none" stroke-width="1.1"/>
<rect x="1093" y="354.1" width="8.6" height="3" fill="none"/>
<rect x="1093" y="371.6" width="8.6" height="3" fill="none"/>
<rect x="1045.4" y="293.4" width="24.4" height="63" fill="none" stroke-width="1.1"/>
<line x1="1050.2" y1="293.4" x2="1050.2" y2="356.4" stroke-width="1.8"/>
<line x1="1057.8" y1="293.4" x2="1057.8" y2="356.4"/>
<line x1="1064.7" y1="293.4" x2="1064.7" y2="356.4" stroke-width="1.8"/>
<polyline points="1111,272.4 1120.8,279 1111,285.4" fill="none" stroke-width="1.1"/>
<rect x="1119.8" y="277" width="3.6" height="4" rx="1" fill="#fff" stroke-width="1"/>
<polyline points="1111,288.8 1120.8,295.2 1111,301.2" fill="none" stroke-width="1.1"/>
<rect x="1119.8" y="293.2" width="3.6" height="4" rx="1" fill="#fff" stroke-width="1"/>
<polyline points="1111,349.2 1120.8,356.1 1111,362.7" fill="none" stroke-width="1.1"/>
<rect x="1119.8" y="354.1" width="3.6" height="4" rx="1" fill="#fff" stroke-width="1"/>
<polyline points="1111,366.2 1120.8,372.8 1111,379.1" fill="none" stroke-width="1.1"/>
<rect x="1119.8" y="370.8" width="3.6" height="4" rx="1" fill="#fff" stroke-width="1"/>
<rect x="1101.6" y="207.6" width="9.4" height="236" fill="#fff" stroke-width="1.1"/>
<text x="1147.6" y="395.4" font-size="14.5" textLength="160.3" lengthAdjust="spacing" transform="rotate(-90 1147.6 395.4)" fill="#444" stroke="none">Component Height</text>
<line x1="1045.5" y1="95.4" x2="1111" y2="95.4"/>
<polygon points="1045.5,95.4 1055.5,93.4 1055.5,97.4" fill="#1a1a1a" stroke="none"/>
<polygon points="1111,95.4 1101,97.4 1101,93.4" fill="#1a1a1a" stroke="none"/>
<text x="1067.4" y="93.7" font-size="15" textLength="21.6" lengthAdjust="spacingAndGlyphs" fill="#444" stroke="none">11.1</text>
<line x1="1131.5" y1="95.4" x2="1207" y2="95.4"/>
<polygon points="1131.5,95.4 1141.5,93.4 1141.5,97.4" fill="#1a1a1a" stroke="none"/>
<text x="1151.8" y="93.7" font-size="15" textLength="54.4" lengthAdjust="spacingAndGlyphs" fill="#444" stroke="none">3.5MAX.</text>
<line x1="1082.3" y1="113.1" x2="1212" y2="113.1"/>
<polygon points="1101.6,113.1 1091.6,115.1 1091.6,111.1" fill="#1a1a1a" stroke="none"/>
<polygon points="1111,113.1 1121,111.1 1121,115.1" fill="#1a1a1a" stroke="none"/>
<text x="1150.6" y="110.6" font-size="15" textLength="61.4" lengthAdjust="spacingAndGlyphs" fill="#444" stroke="none">1.6(PCB)</text>
<rect x="1226.6" y="27.3" width="113.7" height="320.1" fill="none" stroke-width="1.1"/>
<line x1="1226.6" y1="45.3" x2="1340.3" y2="45.3" stroke-width="1.1"/>
<line x1="1226.6" y1="62.9" x2="1340.3" y2="62.9" stroke-width="1.1"/>
<line x1="1226.6" y1="80.7" x2="1340.3" y2="80.7" stroke-width="1.1"/>
<line x1="1226.6" y1="98.5" x2="1340.3" y2="98.5" stroke-width="1.1"/>
<line x1="1226.6" y1="116.2" x2="1340.3" y2="116.2" stroke-width="1.1"/>
<line x1="1226.6" y1="134" x2="1340.3" y2="134" stroke-width="1.1"/>
<line x1="1226.6" y1="151.8" x2="1340.3" y2="151.8" stroke-width="1.1"/>
<line x1="1226.6" y1="169.6" x2="1340.3" y2="169.6" stroke-width="1.1"/>
<line x1="1226.6" y1="187.4" x2="1340.3" y2="187.4" stroke-width="1.1"/>
<line x1="1226.6" y1="205.1" x2="1340.3" y2="205.1" stroke-width="1.1"/>
<line x1="1226.6" y1="222.9" x2="1340.3" y2="222.9" stroke-width="1.1"/>
<line x1="1226.6" y1="240.7" x2="1340.3" y2="240.7" stroke-width="1.1"/>
<line x1="1226.6" y1="258.5" x2="1340.3" y2="258.5" stroke-width="1.1"/>
<line x1="1226.6" y1="276.3" x2="1340.3" y2="276.3" stroke-width="1.1"/>
<line x1="1226.6" y1="294" x2="1340.3" y2="294" stroke-width="1.1"/>
<line x1="1226.6" y1="311.8" x2="1340.3" y2="311.8" stroke-width="1.8"/>
<line x1="1226.6" y1="329.6" x2="1340.3" y2="329.6" stroke-width="1.1"/>
<line x1="1226.6" y1="62.9" x2="1340.3" y2="62.9" stroke-width="1.3"/>
<line x1="1250.9" y1="45.3" x2="1250.9" y2="347.4" stroke-width="1.8"/>
<text x="1249.5" y="42.5" font-size="14" textLength="64" lengthAdjust="spacing" fill="#444" stroke="none">Terminal</text>
<text x="1227.7" y="60.8" font-size="15" textLength="22.5" lengthAdjust="spacingAndGlyphs" fill="#444" stroke="none">No.</text>
<text x="1258.7" y="60.8" font-size="15" textLength="70.3" lengthAdjust="spacing" fill="#444" stroke="none">Pin  Name</text>
<text x="1231.8" y="77.9" font-size="14.5" fill="#444" stroke="none">1</text>
<text x="1259.4" y="77.9" font-size="14.5" textLength="31" lengthAdjust="spacing" fill="#444" stroke="none">VSS</text>
<text x="1231.8" y="95.7" font-size="14.5" fill="#444" stroke="none">2</text>
<text x="1259.4" y="95.7" font-size="14.5" textLength="31" lengthAdjust="spacing" fill="#444" stroke="none">VDD</text>
<text x="1231.8" y="113.5" font-size="14.5" fill="#444" stroke="none">3</text>
<text x="1259.4" y="113.5" font-size="14.5" textLength="20" lengthAdjust="spacing" fill="#444" stroke="none">V0</text>
<text x="1231.8" y="131.2" font-size="14.5" fill="#444" stroke="none">4</text>
<text x="1259.4" y="131.2" font-size="14.5" textLength="20" lengthAdjust="spacingAndGlyphs" fill="#444" stroke="none">RS</text>
<text x="1231.8" y="149" font-size="14.5" fill="#444" stroke="none">5</text>
<text x="1259.4" y="149" font-size="14.5" textLength="31" lengthAdjust="spacing" fill="#444" stroke="none">R/W</text>
<text x="1231.8" y="166.8" font-size="14.5" fill="#444" stroke="none">6</text>
<text x="1259.4" y="166.8" font-size="14.5" textLength="10" lengthAdjust="spacing" fill="#444" stroke="none">E</text>
<text x="1231.8" y="184.6" font-size="14.5" fill="#444" stroke="none">7</text>
<text x="1259.4" y="184.6" font-size="14.5" textLength="27.5" lengthAdjust="spacingAndGlyphs" fill="#444" stroke="none">DB0</text>
<text x="1231.8" y="202.4" font-size="14.5" fill="#444" stroke="none">8</text>
<text x="1259.4" y="202.4" font-size="14.5" textLength="27.5" lengthAdjust="spacingAndGlyphs" fill="#444" stroke="none">DB1</text>
<text x="1231.8" y="220.1" font-size="14.5" fill="#444" stroke="none">9</text>
<text x="1259.4" y="220.1" font-size="14.5" textLength="27.5" lengthAdjust="spacingAndGlyphs" fill="#444" stroke="none">DB2</text>
<text x="1229.5" y="237.9" font-size="14.5" textLength="19" lengthAdjust="spacing" fill="#444" stroke="none">10</text>
<text x="1259.4" y="237.9" font-size="14.5" textLength="27.5" lengthAdjust="spacingAndGlyphs" fill="#444" stroke="none">DB3</text>
<text x="1229.5" y="255.7" font-size="14.5" textLength="19" lengthAdjust="spacing" fill="#444" stroke="none">11</text>
<text x="1259.4" y="255.7" font-size="14.5" textLength="27.5" lengthAdjust="spacingAndGlyphs" fill="#444" stroke="none">DB4</text>
<text x="1229.5" y="273.5" font-size="14.5" textLength="19" lengthAdjust="spacing" fill="#444" stroke="none">12</text>
<text x="1259.4" y="273.5" font-size="14.5" textLength="27.5" lengthAdjust="spacingAndGlyphs" fill="#444" stroke="none">DB5</text>
<text x="1229.5" y="291.3" font-size="14.5" textLength="19" lengthAdjust="spacing" fill="#444" stroke="none">13</text>
<text x="1259.4" y="291.3" font-size="14.5" textLength="27.5" lengthAdjust="spacingAndGlyphs" fill="#444" stroke="none">DB6</text>
<text x="1229.5" y="309" font-size="14.5" textLength="19" lengthAdjust="spacing" fill="#444" stroke="none">14</text>
<text x="1259.4" y="309" font-size="14.5" textLength="27.5" lengthAdjust="spacingAndGlyphs" fill="#444" stroke="none">DB7</text>
<text x="1229.5" y="326.8" font-size="14.5" textLength="19" lengthAdjust="spacing" fill="#444" stroke="none">15</text>
<text x="1259.4" y="326.8" font-size="14.5" textLength="27" lengthAdjust="spacingAndGlyphs" fill="#444" stroke="none">BLA</text>
<text x="1229.5" y="344.6" font-size="14.5" textLength="19" lengthAdjust="spacing" fill="#444" stroke="none">16</text>
<text x="1259.4" y="344.6" font-size="14.5" textLength="27" lengthAdjust="spacingAndGlyphs" fill="#444" stroke="none">BLK</text>
<polyline points="1340.3,72.3 1349.4,72.3 1349.4,53.8 1364.9,53.8 1364.9,73.4" fill="none" stroke-width="1.1"/>
<rect x="1360.6" y="73.4" width="8.8" height="31" fill="none" stroke-width="1.3"/>
<polyline points="1340.3,106.9 1349.4,106.9 1349.4,121 1364.9,121 1364.9,104.4" fill="none" stroke-width="1.1"/>
<line x1="1351.5" y1="105.1" x2="1381" y2="73.4"/>
<path d="M1381,73.4 L1374,74.5 M1381,73.4 L1379.5,80.5" fill="none"/>
<text x="1348" y="136.7" font-size="14" textLength="32.3" lengthAdjust="spacing" fill="#444" stroke="none">(∗8)</text>
<polygon points="1366.8,306.2 1355.9,325.9 1377.8,325.9" fill="none" stroke-width="1.1"/>
<text x="1366.8" y="323.7" font-size="11" text-anchor="middle" textLength="11" lengthAdjust="spacingAndGlyphs" fill="#444" stroke="none">01</text>
<polygon points="1366.8,329.6 1355.9,348.4 1377.8,348.4" fill="none" stroke-width="1.1"/>
<text x="1366.8" y="346.2" font-size="11" text-anchor="middle" textLength="11" lengthAdjust="spacingAndGlyphs" fill="#444" stroke="none">01</text>
<polyline points="444,615.3 428.8,615.3" fill="none" stroke-width="1.2"/>
<rect x="399.5" y="609.9" width="29.3" height="11" fill="none" stroke-width="1.2"/>
<polyline points="399.5,615.3 359.7,615.3 359.7,642.7" fill="none" stroke-width="1.4"/>
<text x="451.8" y="620.9" font-size="19" textLength="34.4" lengthAdjust="spacingAndGlyphs" fill="#444" stroke="none">BLA</text>
<polygon points="348,642.7 372.1,642.7 359.7,662.6" fill="none" stroke-width="1.2"/>
<rect x="347" y="663.8" width="25.5" height="6.3" fill="none" stroke-width="1.2"/>
<line x1="359.7" y1="662.6" x2="359.7" y2="663.8" stroke-width="1.2"/>
<path d="M346.5,655.4 L337.9,645.5 L342,645.1 M346.7,662.5 L337.9,653.2 L342,653" fill="none" stroke-width="1.2"/>
<polygon points="348,697.7 372.1,697.7 359.7,717.6" fill="none" stroke-width="1.2"/>
<rect x="347" y="718.3" width="25.5" height="7.5" fill="none" stroke-width="1.2"/>
<line x1="359.7" y1="717.6" x2="359.7" y2="718.3" stroke-width="1.2"/>
<path d="M346.5,710.4 L337.9,700.5 L342,700.1 M346.7,717.5 L337.9,708.2 L342,708" fill="none" stroke-width="1.2"/>
<line x1="359.7" y1="670.1" x2="359.7" y2="697.7" stroke-width="1.4"/>
<polyline points="359.7,725.8 359.7,752 447,752" fill="none" stroke-width="1.4"/>
<circle cx="359.7" cy="752" r="1.6" fill="#fff" stroke-width="1"/>
<text x="454.6" y="759.1" font-size="19" textLength="33.9" lengthAdjust="spacingAndGlyphs" fill="#444" stroke="none">BLK</text>
<text x="324.6" y="795.6" font-size="16" textLength="140.5" lengthAdjust="spacing" fill="#444" stroke="none">Backlight Circuit</text>
<line x1="324.6" y1="797.6" x2="465.1" y2="797.6" stroke-width="1.1"/>
<text x="309.4" y="812.5" font-size="16" textLength="172.1" lengthAdjust="spacing" fill="#444" stroke="none">(No.of LEDs =2 pcs)</text>
<line x1="309.4" y1="815" x2="481.5" y2="815" stroke-width="1.1"/>
<text x="349.2" y="830" font-size="16" textLength="92.5" lengthAdjust="spacing" fill="#444" stroke="none">Scale=free</text>
<line x1="349.2" y1="832" x2="441.7" y2="832" stroke-width="1.1"/>
<line x1="810.5" y1="587" x2="810.5" y2="668"/>
<line x1="922.5" y1="587" x2="922.5" y2="668"/>
<line x1="904.6" y1="606.8" x2="904.6" y2="668"/>
<line x1="829" y1="625.4" x2="829" y2="668"/>
<line x1="810.5" y1="590.1" x2="922.5" y2="590.1"/>
<polygon points="810.5,590.1 820.5,588.1 820.5,592.1" fill="#1a1a1a" stroke="none"/>
<polygon points="922.5,590.1 912.5,592.1 912.5,588.1" fill="#1a1a1a" stroke="none"/>
<text x="851.3" y="587.3" font-size="15" textLength="20.5" lengthAdjust="spacingAndGlyphs" fill="#444" stroke="none">3.8</text>
<line x1="810.5" y1="609.6" x2="904.6" y2="609.6"/>
<polygon points="810.5,609.6 820.5,607.6 820.5,611.6" fill="#1a1a1a" stroke="none"/>
<polygon points="904.6,609.6 894.6,611.6 894.6,607.6" fill="#1a1a1a" stroke="none"/>
<text x="844.5" y="606.8" font-size="15" textLength="20.4" lengthAdjust="spacingAndGlyphs" fill="#444" stroke="none">3.2</text>
<line x1="791" y1="629.1" x2="881" y2="629.1"/>
<polygon points="810.5,629.1 800.5,631.1 800.5,627.1" fill="#1a1a1a" stroke="none"/>
<polygon points="829,629.1 839,627.1 839,631.1" fill="#1a1a1a" stroke="none"/>
<text x="850.4" y="625.9" font-size="15" textLength="29.7" lengthAdjust="spacing" fill="#444" stroke="none">0.65</text>
<line x1="791" y1="647.6" x2="871.8" y2="647.6"/>
<polygon points="810.5,647.6 800.5,649.6 800.5,645.6" fill="#1a1a1a" stroke="none"/>
<polygon points="829,647.6 839,645.6 839,649.6" fill="#1a1a1a" stroke="none"/>
<text x="850.4" y="644.9" font-size="15" textLength="19.5" lengthAdjust="spacingAndGlyphs" fill="#444" stroke="none">0.6</text>
<rect x="810" y="672.3" width="18.2" height="20.3" fill="none" stroke-width="1.3"/>
<rect x="810" y="694.4" width="18.2" height="20.3" fill="none" stroke-width="1.3"/>
<rect x="810" y="716.5" width="18.2" height="20.3" fill="none" stroke-width="1.3"/>
<rect x="810" y="738.6" width="18.2" height="20.3" fill="none" stroke-width="1.3"/>
<rect x="810" y="760.7" width="18.2" height="20.3" fill="none" stroke-width="1.3"/>
<rect x="810" y="782.8" width="18.2" height="20.3" fill="none" stroke-width="1.3"/>
<rect x="810" y="804.9" width="18.2" height="20.3" fill="none" stroke-width="1.3"/>
<rect x="810" y="827" width="18.2" height="20.3" fill="none" stroke-width="1.3"/>
<rect x="810" y="862.3" width="18.2" height="20.3" fill="none" stroke-width="1.3"/>
<rect x="829" y="672.3" width="18.2" height="20.3" fill="none" stroke-width="1.3"/>
<rect x="829" y="694.4" width="18.2" height="20.3" fill="none" stroke-width="1.3"/>
<rect x="829" y="716.5" width="18.2" height="20.3" fill="none" stroke-width="1.3"/>
<rect x="829" y="738.6" width="18.2" height="20.3" fill="none" stroke-width="1.3"/>
<rect x="829" y="760.7" width="18.2" height="20.3" fill="none" stroke-width="1.3"/>
<rect x="829" y="782.8" width="18.2" height="20.3" fill="none" stroke-width="1.3"/>
<rect x="829" y="804.9" width="18.2" height="20.3" fill="none" stroke-width="1.3"/>
<rect x="829" y="827" width="18.2" height="20.3" fill="none" stroke-width="1.3"/>
<rect x="829" y="862.3" width="18.2" height="20.3" fill="none" stroke-width="1.3"/>
<rect x="848" y="672.3" width="18.2" height="20.3" fill="none" stroke-width="1.3"/>
<rect x="848" y="694.4" width="18.2" height="20.3" fill="none" stroke-width="1.3"/>
<rect x="848" y="716.5" width="18.2" height="20.3" fill="none" stroke-width="1.3"/>
<rect x="848" y="738.6" width="18.2" height="20.3" fill="none" stroke-width="1.3"/>
<rect x="848" y="760.7" width="18.2" height="20.3" fill="none" stroke-width="1.3"/>
<rect x="848" y="782.8" width="18.2" height="20.3" fill="none" stroke-width="1.3"/>
<rect x="848" y="804.9" width="18.2" height="20.3" fill="none" stroke-width="1.3"/>
<rect x="848" y="827" width="18.2" height="20.3" fill="none" stroke-width="1.3"/>
<rect x="848" y="862.3" width="18.2" height="20.3" fill="none" stroke-width="1.3"/>
<rect x="867" y="672.3" width="18.2" height="20.3" fill="none" stroke-width="1.3"/>
<rect x="867" y="694.4" width="18.2" height="20.3" fill="none" stroke-width="1.3"/>
<rect x="867" y="716.5" width="18.2" height="20.3" fill="none" stroke-width="1.3"/>
<rect x="867" y="738.6" width="18.2" height="20.3" fill="none" stroke-width="1.3"/>
<rect x="867" y="760.7" width="18.2" height="20.3" fill="none" stroke-width="1.3"/>
<rect x="867" y="782.8" width="18.2" height="20.3" fill="none" stroke-width="1.3"/>
<rect x="867" y="804.9" width="18.2" height="20.3" fill="none" stroke-width="1.3"/>
<rect x="867" y="827" width="18.2" height="20.3" fill="none" stroke-width="1.3"/>
<rect x="867" y="862.3" width="18.2" height="20.3" fill="none" stroke-width="1.3"/>
<rect x="886.5" y="672.3" width="18.2" height="20.3" fill="none" stroke-width="1.3"/>
<rect x="886.5" y="694.4" width="18.2" height="20.3" fill="none" stroke-width="1.3"/>
<rect x="886.5" y="716.5" width="18.2" height="20.3" fill="none" stroke-width="1.3"/>
<rect x="886.5" y="738.6" width="18.2" height="20.3" fill="none" stroke-width="1.3"/>
<rect x="886.5" y="760.7" width="18.2" height="20.3" fill="none" stroke-width="1.3"/>
<rect x="886.5" y="782.8" width="18.2" height="20.3" fill="none" stroke-width="1.3"/>
<rect x="886.5" y="804.9" width="18.2" height="20.3" fill="none" stroke-width="1.3"/>
<rect x="886.5" y="827" width="18.2" height="20.3" fill="none" stroke-width="1.3"/>
<rect x="886.5" y="862.3" width="18.2" height="20.3" fill="none" stroke-width="1.3"/>
<rect x="922.5" y="672.3" width="18.2" height="20.3" fill="none" stroke-width="1.3"/>
<rect x="922.5" y="694.4" width="18.2" height="20.3" fill="none" stroke-width="1.3"/>
<rect x="922.5" y="716.5" width="18.2" height="20.3" fill="none" stroke-width="1.3"/>
<rect x="922.5" y="738.6" width="18.2" height="20.3" fill="none" stroke-width="1.3"/>
<rect x="922.5" y="760.7" width="18.2" height="20.3" fill="none" stroke-width="1.3"/>
<rect x="922.5" y="782.8" width="18.2" height="20.3" fill="none" stroke-width="1.3"/>
<rect x="922.5" y="804.9" width="18.2" height="20.3" fill="none" stroke-width="1.3"/>
<rect x="922.5" y="827" width="18.2" height="20.3" fill="none" stroke-width="1.3"/>
<rect x="922.5" y="862.3" width="18.2" height="20.3" fill="none" stroke-width="1.3"/>
<line x1="726.7" y1="672.3" x2="807.4" y2="672.3"/>
<line x1="762.1" y1="694.1" x2="807.4" y2="694.1"/>
<line x1="744.3" y1="849.1" x2="807.3" y2="849.1"/>
<line x1="726.6" y1="862.3" x2="807.3" y2="862.3"/>
<line x1="729.7" y1="672.3" x2="729.7" y2="862.3"/>
<polygon points="729.7,672.3 731.7,682.3 727.7,682.3" fill="#1a1a1a" stroke="none"/>
<polygon points="729.7,862.3 727.7,852.3 731.7,852.3" fill="#1a1a1a" stroke="none"/>
<text x="728.6" y="746.3" font-size="15" textLength="33.5" lengthAdjust="spacing" transform="rotate(-90 728.6 746.3)" fill="#444" stroke="none">5.95</text>
<line x1="747.3" y1="672.3" x2="747.3" y2="849.1"/>
<polygon points="747.3,672.3 749.3,682.3 745.3,682.3" fill="#1a1a1a" stroke="none"/>
<polygon points="747.3,849.1 745.3,839.1 749.3,839.1" fill="#1a1a1a" stroke="none"/>
<text x="745.7" y="746.3" font-size="15" textLength="33.5" lengthAdjust="spacing" transform="rotate(-90 745.7 746.3)" fill="#444" stroke="none">5.55</text>
<line x1="765.4" y1="651.2" x2="765.4" y2="754.2"/>
<polygon points="765.4,672.3 763.4,662.3 767.4,662.3" fill="#1a1a1a" stroke="none"/>
<polygon points="765.4,694.1 767.4,704.1 763.4,704.1" fill="#1a1a1a" stroke="none"/>
<text x="763.4" y="752.9" font-size="15" textLength="21" lengthAdjust="spacing" transform="rotate(-90 763.4 752.9)" fill="#444" stroke="none">0.7</text>
<line x1="783.1" y1="651.2" x2="783.1" y2="758"/>
<polygon points="783.1,672.3 781.1,662.3 785.1,662.3" fill="#1a1a1a" stroke="none"/>
<polygon points="783.1,694.1 785.1,704.1 781.1,704.1" fill="#1a1a1a" stroke="none"/>
<text x="781.1" y="756.8" font-size="15" textLength="32.8" lengthAdjust="spacing" transform="rotate(-90 781.1 756.8)" fill="#444" stroke="none">0.65</text>
<text x="785.6" y="906.8" font-size="15" textLength="113.2" lengthAdjust="spacing" fill="#444" stroke="none">Pixels Details</text>
<line x1="785.6" y1="909.3" x2="898.8" y2="909.3" stroke-width="1.1"/>
<text x="803.3" y="924.9" font-size="15" textLength="79.8" lengthAdjust="spacing" fill="#444" stroke="none">Scale=6/1</text>
<line x1="803.3" y1="926.3" x2="883.1" y2="926.3" stroke-width="1.1"/>
<line x1="1135.1" y1="595.8" x2="1135.1" y2="717.3" stroke-width="1.2"/>
<line x1="1305" y1="595.8" x2="1305" y2="717.3" stroke-width="1.2"/>
<line x1="1120.5" y1="603.6" x2="1311.3" y2="603.6" stroke-width="1.1"/>
<line x1="1120.5" y1="649.8" x2="1311.3" y2="649.8" stroke-width="1.1"/>
<line x1="1120.5" y1="657.2" x2="1311.3" y2="657.2" stroke-width="1.1"/>
<line x1="1120.5" y1="702.6" x2="1311.3" y2="702.6" stroke-width="1.1"/>
<text x="1096.9" y="611.5" font-size="15" textLength="16.4" lengthAdjust="spacingAndGlyphs" fill="#444" stroke="none">C1</text>
<text x="1096.9" y="647.1" font-size="15" textLength="20.2" lengthAdjust="spacing" fill="#444" stroke="none">C8</text>
<text x="1098.5" y="666.6" font-size="15" textLength="18.5" lengthAdjust="spacingAndGlyphs" fill="#444" stroke="none">C9</text>
<text x="1091.3" y="711.6" font-size="15" textLength="26.5" lengthAdjust="spacingAndGlyphs" fill="#444" stroke="none">C16</text>
<rect x="1106" y="620.4" width="1.2" height="2" fill="#555" stroke="none"/>
<rect x="1106" y="625.4" width="1.2" height="2" fill="#555" stroke="none"/>
<rect x="1106" y="682.3" width="1.2" height="2" fill="#555" stroke="none"/>
<rect x="1106" y="687.3" width="1.2" height="2" fill="#555" stroke="none"/>
<text x="1143" y="737.5" font-size="15" textLength="15.7" lengthAdjust="spacingAndGlyphs" transform="rotate(-90 1143 737.5)" fill="#444" stroke="none">S1</text>
<text x="1311.3" y="758.9" font-size="15" textLength="36" lengthAdjust="spacing" transform="rotate(-90 1311.3 758.9)" fill="#444" stroke="none">S100</text>
<line x1="1184.6" y1="726.3" x2="1235.3" y2="726.3" stroke-dasharray="3.5 1.5 3.5 4.5"/>
<text x="1118.7" y="787" font-size="16" textLength="169.4" lengthAdjust="spacing" fill="#444" stroke="none">Panel Wiring Details</text>
<line x1="1118.7" y1="789.5" x2="1290.4" y2="789.5" stroke-width="1.1"/>
<text x="1157.6" y="803.9" font-size="16" textLength="91.2" lengthAdjust="spacing" fill="#444" stroke="none">Scale=free</text>
<line x1="1157.6" y1="806.3" x2="1248.8" y2="806.3" stroke-width="1.1"/>
<text x="27.6" y="897.9" font-size="14.5" textLength="42.3" lengthAdjust="spacing" fill="#444" stroke="none">Note:</text>
<text x="27.6" y="915.6" font-size="14.5" textLength="471.8" lengthAdjust="spacing" fill="#444" stroke="none">∗1 LCD Display Type : STN-Blue, Negative, Transmissive</text>
<text x="27.6" y="933.3" font-size="14.5" textLength="218.3" lengthAdjust="spacing" fill="#444" stroke="none">∗2. Viewing Direction : 6H</text>
<text x="27.6" y="951" font-size="14.5" textLength="222.8" lengthAdjust="spacing" fill="#444" stroke="none">∗3. Duty : 1/16; Bias : 1/5</text>
<text x="27.6" y="968.7" font-size="14.5" textLength="246.8" lengthAdjust="spacing" fill="#444" stroke="none">∗4. Operating Voltage : 5.0V</text>
<text x="27.6" y="986.4" font-size="14.5" textLength="230.8" lengthAdjust="spacing" fill="#444" stroke="none">∗5. Backlight Color : White</text>
<text x="27.6" y="1004.1" font-size="14.5" textLength="341.5" lengthAdjust="spacing" fill="#444" stroke="none">∗6. Operating Temperature : -20°C~70°C</text>
<text x="27.6" y="1021.8" font-size="14.5" textLength="329" lengthAdjust="spacing" fill="#444" stroke="none">∗7. Storage Temperature : -30°C~80°C</text>
<text x="27.6" y="1039.5" font-size="14.5" textLength="581.5" lengthAdjust="spacing" fill="#444" stroke="none">∗8. An external VR(5k) must be connected for Contrast Control.</text>
<rect x="1022.5" y="841.1" width="368.5" height="211.9" fill="none" stroke-width="1.2"/>
<line x1="1022.5" y1="904.7" x2="1391" y2="904.7" stroke-width="1.2"/>
<line x1="1022.5" y1="941.4" x2="1391" y2="941.4" stroke-width="1.2"/>
<line x1="1022.5" y1="978.5" x2="1391" y2="978.5" stroke-width="1.2"/>
<line x1="1022.5" y1="1015.2" x2="1391" y2="1015.2" stroke-width="1.2"/>
<line x1="1267.7" y1="941.4" x2="1267.7" y2="978.5" stroke-width="1.2"/>
<line x1="1114.5" y1="978.5" x2="1114.5" y2="1015.2" stroke-width="1.2"/>
<line x1="1206.4" y1="978.5" x2="1206.4" y2="1015.2" stroke-width="1.2"/>
<line x1="1298.3" y1="978.5" x2="1298.3" y2="1015.2" stroke-width="1.2"/>
<line x1="1144.5" y1="1015.2" x2="1144.5" y2="1053" stroke-width="1.2"/>
<line x1="1267.7" y1="1015.2" x2="1267.7" y2="1053" stroke-width="1.2"/>
<text x="1070.5" y="889.4" font-size="43.5" textLength="276.5" lengthAdjust="spacingAndGlyphs" font-weight="bold" font-style="italic" fill="#000" stroke="#000" stroke-width="1.3">HOT DISPLAY</text>
<text x="1025.3" y="915" font-size="11.5" textLength="55.7" lengthAdjust="spacing" fill="#444" stroke="none">Dwg Title</text>
<text x="1090.8" y="932.5" font-size="14.5" textLength="223.4" lengthAdjust="spacing" fill="#444" stroke="none">HTM2002A-25W-A5P Outline</text>
<text x="1025.3" y="952" font-size="11.5" textLength="44.6" lengthAdjust="spacing" fill="#444" stroke="none">Dwg No.</text>
<text x="1090.2" y="969.3" font-size="14.5" textLength="66.9" lengthAdjust="spacing" fill="#444" stroke="none">10300028</text>
<text x="1270.4" y="952" font-size="11.5" textLength="27.1" lengthAdjust="spacing" fill="#444" stroke="none">Date</text>
<text x="1285.2" y="969.3" font-size="14.5" textLength="88.3" lengthAdjust="spacing" fill="#444" stroke="none">2014-09-05</text>
<text x="1025.3" y="988.8" font-size="11.5" textLength="30.7" lengthAdjust="spacing" fill="#444" stroke="none">Scale</text>
<text x="1064.3" y="1006.9" font-size="14.5" textLength="28.7" lengthAdjust="spacing" fill="#444" stroke="none">6/5</text>
<text x="1118.1" y="988.8" font-size="11.5" textLength="22.8" lengthAdjust="spacing" fill="#444" stroke="none">Unit</text>
<text x="1156.2" y="1006.9" font-size="14.5" textLength="18.7" lengthAdjust="spacingAndGlyphs" fill="#444" stroke="none">mm</text>
<text x="1210.6" y="988.8" font-size="11.5" textLength="19.4" lengthAdjust="spacing" fill="#444" stroke="none">Tol.</text>
<text x="1249" y="1006.9" font-size="14.5" textLength="29.8" lengthAdjust="spacing" fill="#444" stroke="none">±0.5</text>
<text x="1025.3" y="1026.4" font-size="11.5" textLength="34.8" lengthAdjust="spacing" fill="#444" stroke="none">Drawn</text>
<text x="1064.3" y="1043.9" font-size="14.5" textLength="44.6" lengthAdjust="spacing" fill="#444" stroke="none">XIENA</text>
<text x="1146.5" y="1026.4" font-size="11.5" textLength="51.5" lengthAdjust="spacing" fill="#444" stroke="none">Checked</text>
<text x="1270.4" y="1026.4" font-size="11.5" textLength="57.1" lengthAdjust="spacing" fill="#444" stroke="none">Approved</text>
<circle cx="1324" cy="997.1" r="12.1" fill="none" stroke-width="1.2"/>
<circle cx="1324" cy="997.1" r="5.6" fill="none" stroke-width="1.2"/>
<line x1="1305.3" y1="997.1" x2="1384.6" y2="997.1" stroke-width="1.1" stroke-dasharray="7 2 2 2"/>
<polygon points="1344.3,990.2 1377.1,983.2 1377.1,1010.5 1344.3,1005" fill="none" stroke-width="1.2"/>
</g>
</svg>
</body></html>
